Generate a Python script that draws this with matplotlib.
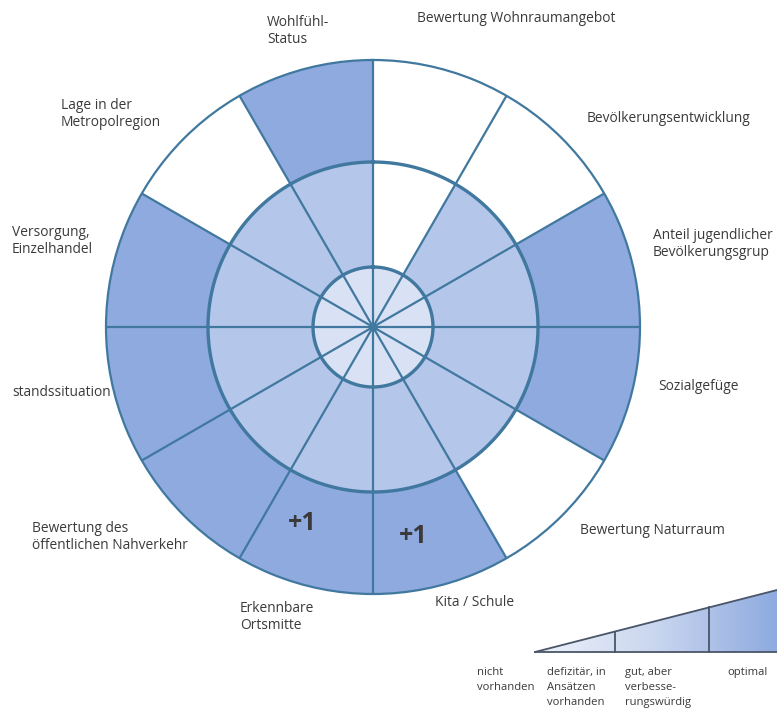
import numpy as np
import matplotlib
matplotlib.use("Agg")
import matplotlib.pyplot as plt
from matplotlib.patches import Polygon

plt.rcParams['font.family'] = ['Open Sans', 'DejaVu Sans']

# criteria clockwise from the top (two labels are cut by the image edge)
criteria = ["Bewertung Wohnraumangebot", "Bevölkerungsentwicklung",
            "Anteil jugendlicher\nBevölkerungsgrup", "Sozialgefüge",
            "Bewertung Naturraum", "Kita / Schule", "Erkennbare\nOrtsmitte",
            "Bewertung des\nöffentlichen Nahverkehr", "standssituation",
            "Versorgung,\nEinzelhandel", "Lage in der\nMetropolregion",
            "Wohlfühl-\nStatus"]
# 0 = nicht vorhanden ... 3 = optimal
levels = [1, 2, 3, 3, 2, 3, 3, 3, 3, 3, 2, 3]
bonus = ["", "", "", "", "", "+1", "+1", "", "", "", "", ""]
ring_edges = [0, 60, 165, 267]
ring_colors = ["#d9e2f4", "#b4c6ea", "#8eaadf"]
legend_labels = ["nicht\nvorhanden", "defizitär, in\nAnsätzen\nvorhanden",
                 "gut, aber\nverbesse-\nrungswürdig", "optimal"]

# label anchor points (pixels, left edge / vertical centre)
label_pos = [(417, 18), (587, 119), (653, 244), (658, 386), (580, 531),
             (435, 603), (240, 617), (32, 537), (12, 392), (12, 241),
             (61, 114), (267, 31)]
bonus_pos = [None, None, None, None, None, (169, 213), (199.8, 209),
             None, None, None, None, None]

line_col = "#41789f"
W, H = 777, 712
fig = plt.figure(figsize=(W / 100, H / 100), dpi=100)

cx, cy, R = 373, 327, ring_edges[-1]
ax = fig.add_axes([(cx - R) / W, (H - cy - R) / H, 2 * R / W, 2 * R / H],
                  projection="polar")
ax.set_theta_zero_location("N")
ax.set_theta_direction(-1)
ax.set_ylim(0, R)
ax.set_xticks([])
ax.set_yticks([])
ax.grid(False)
ax.spines["polar"].set_color(line_col)
ax.spines["polar"].set_linewidth(1.6)

n = len(criteria)
width = 2 * np.pi / n
theta = np.arange(n) * width + width / 2
for k in range(3):
    filled = np.array(levels) > k
    ax.bar(theta[filled], ring_edges[k + 1] - ring_edges[k], width=width,
           bottom=ring_edges[k], color=ring_colors[k], edgecolor="none",
           align="center")

t = np.linspace(0, 2 * np.pi, 400)
ax.plot(t, np.full_like(t, ring_edges[1]), color=line_col, lw=2.4)
ax.plot(t, np.full_like(t, ring_edges[2]), color=line_col, lw=2.4)
for a in np.arange(n) * width:
    ax.plot([a, a], [0, R], color=line_col, lw=1.6)
ax.plot([0], [0], "o", color=line_col, ms=5)

for b, p in zip(bonus, bonus_pos):
    if b:
        ax.text(np.deg2rad(p[0]), p[1], b, ha="center", va="center",
                fontsize=18, fontweight="bold", color="#3a3a3a")

# overlay in pixel coordinates for labels and legend
ov = fig.add_axes([0, 0, 1, 1], facecolor="none")
ov.set_xlim(0, W)
ov.set_ylim(H, 0)
ov.axis("off")

for lab, (x, y) in zip(criteria, label_pos):
    ov.text(x, y, lab, ha="left", va="center", fontsize=9.9,
            color="#3a3a3a", linespacing=1.25)

# legend wedge
x0, y0, x1, y1 = 535, 652, 777, 590
tri = Polygon([[x0, y0], [x1, y1], [x1, y0]], closed=True,
              facecolor="none", edgecolor="none")
ov.add_patch(tri)
grad = np.linspace(0, 1, 256).reshape(1, -1)
cmap = matplotlib.colors.LinearSegmentedColormap.from_list(
    "g", ["#eef2fa", "#c9d6ef", "#8eaadf"])
im = ov.imshow(grad, extent=[x0, x1, y0, y1], cmap=cmap, aspect="auto",
               zorder=1)
im.set_clip_path(tri)
ov.set_xlim(0, W)
ov.set_ylim(H, 0)
ov.plot([x0, x1], [y0, y1], color="#4a5568", lw=1.3, zorder=2)
ov.plot([x0, x1], [y0, y0], color="#4a5568", lw=1.3, zorder=2)
slope = (y1 - y0) / (x1 - x0)
for xd in [615, 709]:
    ov.plot([xd, xd], [y0, y0 + slope * (xd - x0)], color="#4a5568",
            lw=1.3, zorder=2)

legend_x = [477, 547, 625, 727]
for lab, x in zip(legend_labels, legend_x):
    ov.text(x, 667, lab, ha="left", va="top", fontsize=8.1,
            color="#3a3a3a", linespacing=1.5)

fig.savefig("out.png", dpi=100)
